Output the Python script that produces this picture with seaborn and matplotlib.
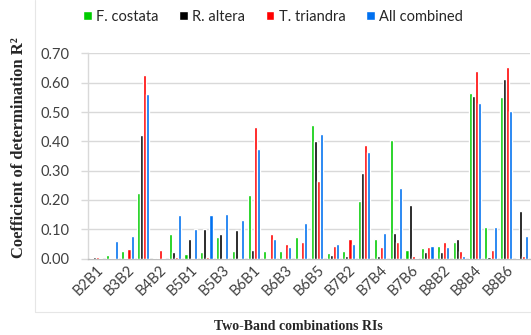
import numpy as np
import pandas as pd
import matplotlib
matplotlib.use("Agg")
import matplotlib.pyplot as plt
from matplotlib.lines import Line2D
import seaborn as sns

categories = ["B2B1", "B3B1", "B3B2", "B4B1", "B4B2", "B4B3", "B5B1", "B5B2", "B5B3", "B5B4",
              "B6B1", "B6B2", "B6B3", "B6B4", "B6B5", "B7B1", "B7B2", "B7B3", "B7B4", "B7B5",
              "B7B6", "B8B1", "B8B2", "B8B3", "B8B4", "B8B5", "B8B6", "B8B7"]
series_names = ["F. costata", "R. altera", "T. triandra", "All combined"]

f_costata = [0.003, 0.012, 0.027, 0.223, 0.002, 0.084, 0.015, 0.021, 0.075, 0.025,
             0.217, 0.025, 0.025, 0.075, 0.456, 0.019, 0.025, 0.198, 0.067, 0.405,
             0.028, 0.036, 0.044, 0.058, 0.564, 0.107, 0.550, 0.003]
r_altera = [0.005, 0.003, 0.003, 0.422, 0.003, 0.021, 0.066, 0.100, 0.084, 0.098,
            0.030, 0.003, 0.003, 0.003, 0.400, 0.011, 0.010, 0.293, 0.010, 0.087,
            0.183, 0.021, 0.021, 0.068, 0.553, 0.005, 0.613, 0.164]
t_triandra = [0.005, 0.003, 0.033, 0.627, 0.031, 0.006, 0.003, 0.005, 0.003, 0.003,
              0.450, 0.084, 0.049, 0.057, 0.266, 0.044, 0.066, 0.388, 0.039, 0.055,
              0.008, 0.039, 0.055, 0.025, 0.641, 0.028, 0.653, 0.008]
all_combined = [0.002, 0.060, 0.078, 0.562, 0.003, 0.149, 0.100, 0.149, 0.153, 0.133,
                0.374, 0.066, 0.039, 0.120, 0.425, 0.051, 0.051, 0.362, 0.087, 0.240,
                0.003, 0.044, 0.039, 0.008, 0.530, 0.107, 0.505, 0.078]

yticks = [0.0, 0.1, 0.2, 0.3, 0.4, 0.5, 0.6, 0.7]
colors = ["#00cc00", "#000000", "#ff0000", "#0070f0"]

wide = pd.DataFrame({"RI": categories,
                     series_names[0]: f_costata,
                     series_names[1]: r_altera,
                     series_names[2]: t_triandra,
                     series_names[3]: all_combined})
long = wide.melt(id_vars="RI", var_name="Species", value_name="R2")

sns.set_theme(style="white")
plt.rcParams["font.family"] = ["Lato", "DejaVu Sans"]

W, H = 531, 335
fig = plt.figure(figsize=(W / 100, H / 100), dpi=100)
ax = fig.add_axes([88 / W, 1 - 258.6 / H, 442 / W, 205.2 / H])

sns.barplot(data=long, x="RI", y="R2", hue="Species", order=categories,
            hue_order=series_names, palette=colors, width=0.78, saturation=1,
            errorbar=None, ax=ax, zorder=3)

ax.set_xlim(-0.5, len(categories) - 0.5)
ax.set_ylim(0, 0.7)
ax.set_yticks(yticks)
ax.set_yticklabels([f"{v:.2f}" for v in yticks], fontsize=10.5, color="#404040")
ax.set_xticks(range(0, len(categories), 2))
ax.set_xticklabels(categories[::2], rotation=45, ha="right", va="top",
                   rotation_mode="anchor", fontsize=10.5, color="#404040")
ax.set_xticks(np.arange(-0.5, len(categories), 1), minor=True)
ax.tick_params(axis="x", which="major", length=0, pad=3)
ax.tick_params(axis="x", which="minor", length=4, color="#bfbfbf", width=0.8)
ax.tick_params(axis="y", which="major", length=5, color="#d9d9d9", width=1, pad=8, left=True)
ax.set_xlabel("")
ax.set_ylabel("")
ax.grid(axis="y", color="#d9d9d9", linewidth=1, zorder=0)
ax.set_axisbelow(True)
for s in ["top", "right"]:
    ax.spines[s].set_visible(False)
ax.spines["left"].set_color("#d9d9d9")
ax.spines["bottom"].set_color("#bfbfbf")
ax.spines["left"].set_linewidth(1)
ax.spines["bottom"].set_linewidth(1)

handles, labels = ax.get_legend_handles_labels()
if ax.get_legend() is not None:
    ax.get_legend().remove()
fig.legend(handles, labels, loc="center", bbox_to_anchor=(273 / W, 1 - 16.7 / H),
           ncol=4, frameon=False, handlelength=0.6, handleheight=0.6,
           handletextpad=0.3, columnspacing=1.4, fontsize=10.5)

fig.text(19 / W, 1 - 148 / H, "Coefficient of determination R²", rotation=90,
         ha="center", va="center", family=["Liberation Serif", "DejaVu Serif"],
         weight="bold", fontsize=12)
fig.text(298 / W, 1 - 326 / H, "Two-Band combinations RIs", ha="center", va="center",
         family=["Liberation Serif", "DejaVu Serif"], weight="bold", fontsize=10)

fig.add_artist(Line2D([35 / W, 35 / W], [1 - 312 / H, 1.0], transform=fig.transFigure,
                      color="#e6e6e6", linewidth=0.8))
fig.add_artist(Line2D([35 / W, 1.0], [1 - 312 / H, 1 - 312 / H], transform=fig.transFigure,
                      color="#e6e6e6", linewidth=0.8))

fig.savefig("out.png", dpi=100)
